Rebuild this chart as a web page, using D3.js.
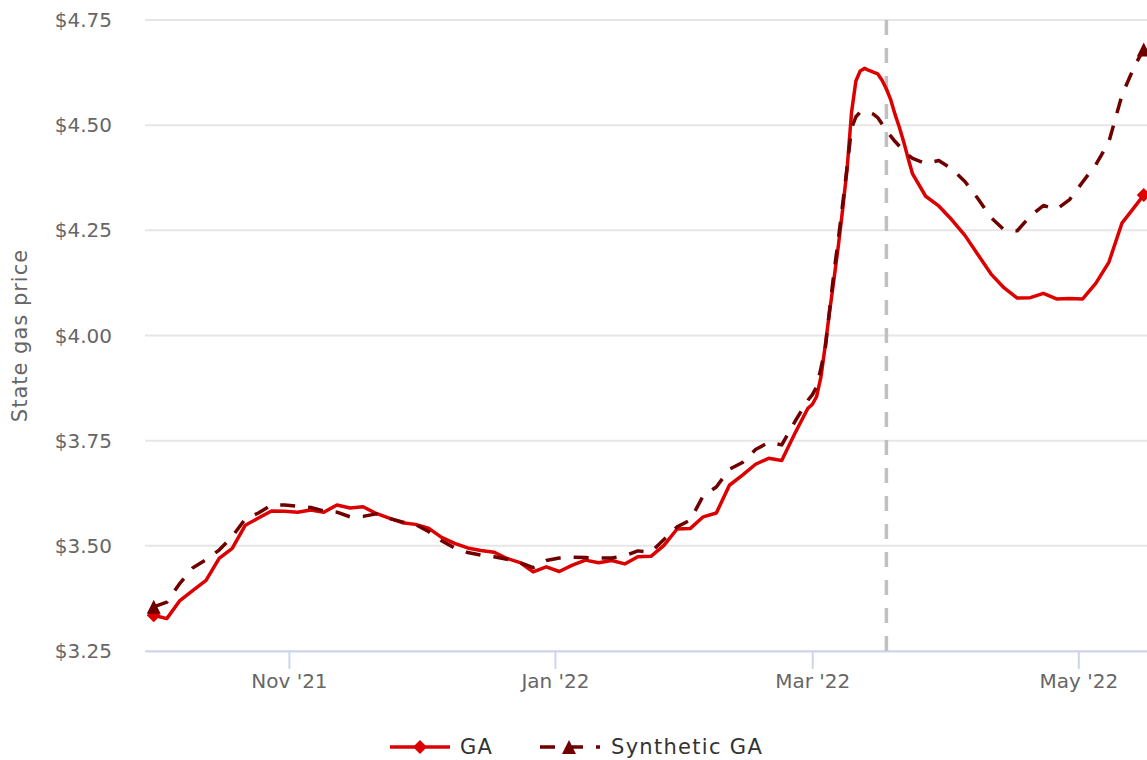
<!DOCTYPE html>
<html>
<head>
<meta charset="utf-8">
<script src="https://cdn.jsdelivr.net/npm/d3@7"></script>
<style>
  body { margin: 0; background: #fff; }
  svg { display: block; font-family: "DejaVu Sans", sans-serif; }
</style>
</head>
<body>
<div id="chart"></div>
<script>
// state gas price, read every ~3 days (daily around the March spike)
var dates = [
  "2021-10-01","2021-10-04","2021-10-07","2021-10-10","2021-10-13","2021-10-16","2021-10-19","2021-10-22","2021-10-25","2021-10-28",
  "2021-10-31","2021-11-03","2021-11-06","2021-11-09","2021-11-12","2021-11-15","2021-11-18","2021-11-21","2021-11-24","2021-11-27",
  "2021-11-30","2021-12-03","2021-12-06","2021-12-09","2021-12-12","2021-12-15","2021-12-18","2021-12-21","2021-12-24","2021-12-27",
  "2021-12-30","2022-01-02","2022-01-05","2022-01-08","2022-01-11","2022-01-14","2022-01-17","2022-01-20","2022-01-23","2022-01-26",
  "2022-01-29","2022-02-01","2022-02-04","2022-02-07","2022-02-10","2022-02-13","2022-02-16","2022-02-19","2022-02-22","2022-02-25",
  "2022-02-28","2022-03-01","2022-03-02","2022-03-03","2022-03-04","2022-03-05","2022-03-06","2022-03-07","2022-03-08","2022-03-09",
  "2022-03-10","2022-03-11","2022-03-12","2022-03-13","2022-03-14","2022-03-15","2022-03-16","2022-03-17","2022-03-18","2022-03-19",
  "2022-03-20","2022-03-21","2022-03-22","2022-03-23","2022-03-24",
  "2022-03-27","2022-03-30","2022-04-02","2022-04-05","2022-04-08","2022-04-11","2022-04-14","2022-04-17","2022-04-20","2022-04-23",
  "2022-04-26","2022-04-29","2022-05-02","2022-05-05","2022-05-08","2022-05-11","2022-05-14","2022-05-16"
];

var gaPrice = [
  3.335, 3.327, 3.370, 3.394, 3.418, 3.470, 3.494, 3.549, 3.566, 3.583,
  3.582, 3.580, 3.585, 3.580, 3.597, 3.590, 3.593, 3.577, 3.566, 3.555,
  3.551, 3.542, 3.520, 3.506, 3.495, 3.489, 3.485, 3.470, 3.460, 3.438,
  3.450, 3.439, 3.454, 3.466, 3.460, 3.465, 3.457, 3.474, 3.475, 3.501,
  3.540, 3.541, 3.569, 3.578, 3.644, 3.668, 3.694, 3.708, 3.703, 3.767,
  3.827, 3.836, 3.855, 3.902, 3.978, 4.059, 4.136, 4.215, 4.303, 4.398,
  4.530, 4.605, 4.629, 4.635, 4.630, 4.626, 4.622, 4.607, 4.586, 4.560,
  4.525, 4.494, 4.459, 4.420, 4.384,
  4.331, 4.308, 4.275, 4.238, 4.192, 4.146, 4.113, 4.089, 4.090, 4.100,
  4.087, 4.088, 4.087, 4.124, 4.174, 4.267, 4.307, 4.334
];

var syntheticPrice = [
  3.355, 3.366, 3.411, 3.448, 3.467, 3.490, 3.522, 3.564, 3.578, 3.597,
  3.597, 3.594, 3.591, 3.583, 3.580, 3.569, 3.570, 3.576, 3.565, 3.557,
  3.551, 3.534, 3.512, 3.495, 3.484, 3.478, 3.474, 3.468, 3.460, 3.448,
  3.465, 3.471, 3.473, 3.472, 3.471, 3.471, 3.476, 3.488, 3.485, 3.515,
  3.545, 3.561, 3.619, 3.640, 3.682, 3.698, 3.729, 3.746, 3.740, 3.795,
  3.846, 3.859, 3.878, 3.923, 3.971, 4.064, 4.152, 4.231, 4.315, 4.402,
  4.493, 4.520, 4.531, 4.532, 4.530, 4.526, 4.518, 4.503, 4.486, 4.474,
  4.461, 4.450, 4.439, 4.429, 4.421,
  4.409, 4.416, 4.396, 4.366, 4.325, 4.280, 4.251, 4.249, 4.284, 4.309,
  4.300, 4.323, 4.365, 4.406, 4.460, 4.571, 4.643, 4.680
];

var seriesNames = ["GA", "Synthetic GA"];
var seriesColors = ["#dd0000", "#700000"];
var yTicks = [3.25, 3.5, 3.75, 4.0, 4.25, 4.5, 4.75];
var eventDate = "2022-03-18";

var width = 1147;
var height = 760;
var plot = { left: 145, right: 1147, top: 20, bottom: 651 };

var parseDate = d3.timeParse("%Y-%m-%d");

var svg = d3.select("#chart")
    .append("svg")
    .attr("width", width)
    .attr("height", height);

var x = d3.scaleTime()
    .domain([new Date(2021, 8, 29), new Date(2022, 4, 16, 18)])
    .range([plot.left, plot.right]);

var y = d3.scaleLinear()
    .domain([3.25, 4.75])
    .range([plot.bottom, plot.top]);

// horizontal grid
svg.append("g")
    .selectAll("line")
    .data(yTicks)
    .enter().append("line")
    .attr("x1", plot.left)
    .attr("x2", plot.right)
    .attr("y1", function(d) { return y(d); })
    .attr("y2", function(d) { return y(d); })
    .attr("stroke", "#e6e6e6")
    .attr("stroke-width", 2);

// y labels
svg.append("g")
    .selectAll("text")
    .data(yTicks)
    .enter().append("text")
    .attr("x", 112)
    .attr("y", function(d) { return y(d) + 7; })
    .attr("text-anchor", "end")
    .attr("fill", "#666")
    .style("font-size", "20px")
    .text(function(d) { return "$" + d3.format(".2f")(d); });

svg.append("text")
    .attr("transform", "translate(27," + ((plot.top + plot.bottom) / 2) + ") rotate(-90)")
    .attr("text-anchor", "middle")
    .attr("fill", "#666")
    .style("font-size", "21px")
    .style("letter-spacing", "1px")
    .text("State gas price");

// x axis
var xAxis = d3.axisBottom(x)
    .ticks(d3.timeMonth.every(2))
    .tickFormat(d3.timeFormat("%b '%y"))
    .tickSize(18)
    .tickSizeOuter(0)
    .tickPadding(5);

var gx = svg.append("g")
    .attr("transform", "translate(0," + plot.bottom + ")")
    .call(xAxis);

gx.select(".domain")
    .attr("stroke", "#ccd6eb")
    .attr("stroke-width", 2);
gx.selectAll(".tick line")
    .attr("stroke", "#ccd6eb")
    .attr("stroke-width", 2);
gx.selectAll(".tick text")
    .attr("fill", "#666")
    .attr("dy", "0.71em")
    .style("font-size", "20px")
    .style("font-family", "DejaVu Sans, sans-serif");

// event marker line
svg.append("line")
    .attr("x1", x(parseDate(eventDate)))
    .attr("x2", x(parseDate(eventDate)))
    .attr("y1", plot.top)
    .attr("y2", plot.bottom)
    .attr("stroke", "#c0c0c0")
    .attr("stroke-width", 3.5)
    .attr("stroke-dasharray", "15,13");

var series = [gaPrice, syntheticPrice].map(function(values, i) {
  return {
    name: seriesNames[i],
    color: seriesColors[i],
    dash: i == 1 ? "15,13" : null,
    points: values.map(function(v, j) { return { date: parseDate(dates[j]), value: v }; })
  };
});

var line = d3.line()
    .x(function(d) { return x(d.date); })
    .y(function(d) { return y(d.value); });

svg.append("clipPath")
    .attr("id", "plot-clip")
    .append("rect")
    .attr("x", plot.left)
    .attr("y", 0)
    .attr("width", plot.right - plot.left)
    .attr("height", plot.bottom);

function diamond(cx, cy, r) {
  return "M" + cx + "," + (cy - r) + "L" + (cx + r) + "," + cy + "L" + cx + "," + (cy + r) + "L" + (cx - r) + "," + cy + "Z";
}
function triangle(cx, cy, r) {
  return "M" + cx + "," + (cy - r) + "L" + (cx + r) + "," + (cy + r) + "L" + (cx - r) + "," + (cy + r) + "Z";
}
var markerShapes = [diamond, triangle];

var lines = svg.append("g").attr("clip-path", "url(#plot-clip)");

series.forEach(function(s, i) {
  lines.append("path")
      .datum(s.points)
      .attr("fill", "none")
      .attr("stroke", s.color)
      .attr("stroke-width", 3.5)
      .attr("stroke-linejoin", "round")
      .attr("stroke-dasharray", s.dash)
      .attr("d", line);

  // markers on first and last point
  lines.selectAll(".marker-" + i)
      .data([s.points[0], s.points[s.points.length - 1]])
      .enter().append("path")
      .attr("class", "marker-" + i)
      .attr("fill", s.color)
      .attr("d", function(d) { return markerShapes[i](x(d.date), y(d.value), 7); });
});

// legend
var legendPos = [390, 540];
var legend = svg.append("g")
    .selectAll(".legend")
    .data(series)
    .enter().append("g")
    .attr("class", "legend")
    .attr("transform", function(d, i) { return "translate(" + legendPos[i] + ",747)"; });

legend.append("line")
    .attr("x1", 0)
    .attr("x2", 60)
    .attr("stroke", function(d) { return d.color; })
    .attr("stroke-width", 3.5)
    .attr("stroke-dasharray", function(d) { return d.dash; });

legend.append("path")
    .attr("fill", function(d) { return d.color; })
    .attr("d", function(d, i) { return markerShapes[i](i == 1 ? 29 : 30, 0, 7); });

legend.append("text")
    .attr("x", function(d, i) { return i == 1 ? 71 : 70; })
    .attr("y", 7)
    .attr("fill", "#333")
    .style("font-size", "21px")
    .style("letter-spacing", "1.3px")
    .text(function(d) { return d.name; });
</script>
</body>
</html>
